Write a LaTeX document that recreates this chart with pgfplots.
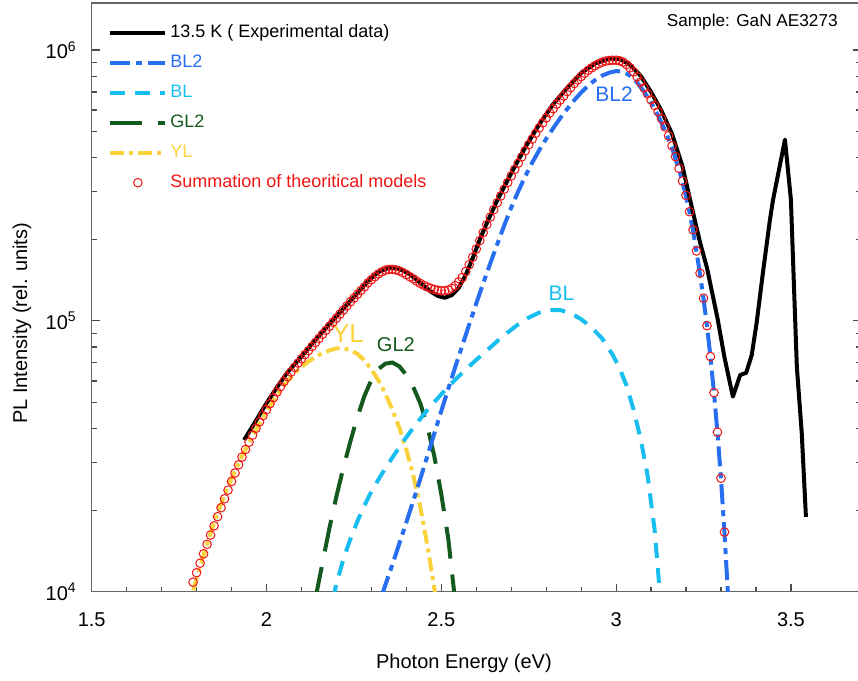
\documentclass[border=0pt]{standalone}
\usepackage{pgfplots}
\pgfplotsset{compat=1.18}
\usepackage{fontspec}
\setmainfont{Liberation Sans}
\definecolor{cBLtwo}{RGB}{40,110,240}
\definecolor{cBL}{RGB}{25,190,240}
\definecolor{cGL}{RGB}{20,90,30}
\definecolor{cYL}{RGB}{250,210,60}
\definecolor{cSum}{RGB}{240,20,20}
\begin{document}
\begin{tikzpicture}
\useasboundingbox (-45.85bp,-44.65bp) rectangle (383.15bp,295.85bp);
\begin{axis}[
 at={(0,0)}, anchor=south west,
 scale only axis, width=384.56bp, height=294.2bp,
 xmin=1.5, xmax=3.7, ymin=1e4, ymax=1.487e6,
 ymode=log, log basis y=10,
 xtick={1.5,2,2.5,3,3.5}, xticklabels={1.5,2,2.5,3,3.5},
 minor x tick num=4,
 ytick={1e4,1e5,1e6}, yticklabels={10\textsuperscript{4},10\textsuperscript{5},10\textsuperscript{6}},
 minor ytick={2e4,3e4,4e4,5e4,6e4,7e4,8e4,9e4,2e5,3e5,4e5,5e5,6e5,7e5,8e5,9e5},
 xtick pos=bottom, ytick pos=both, yticklabel pos=left,
 tick align=inside,
 major tick length=4bp, minor tick length=2.5bp,
 tick style={black!70, line width=0.6bp},
 axis line style={black!60, line width=0.8bp},
 ticklabel style={font=\fontsize{10bp}{12bp}\selectfont},
 xticklabel style={yshift=-7bp},
 yticklabel style={xshift=-4bp},
 xlabel={Photon Energy (eV)}, ylabel={PL Intensity (rel. units)},
 label style={font=\fontsize{10bp}{12bp}\selectfont},
 xlabel style={at={(axis description cs:0.484,-0.1215)}, anchor=center},
 ylabel style={at={(axis description cs:-0.0906,0.456)}, anchor=center},
 legend image code/.code={\draw[mark repeat=2,mark phase=2,#1] plot coordinates {(0bp,0bp) (13.75bp,0bp) (27.5bp,0bp)};},
 legend style={draw=none, fill=none, font=\fontsize{9bp}{10.8bp}\selectfont,
   at={(axis description cs:0.0212,0.9711)}, anchor=north west, inner sep=0pt,
   row sep=3bp, nodes={inner sep=1.5bp, text height=7bp, text depth=2bp}},
 legend cell align=left,
]
% YL
\addplot[forget plot, cYL, line width=2bp, dash pattern=on 7bp off 2.5bp on 2bp off 2.5bp] coordinates {
(1.79,10120) (1.80,11170) (1.82,13650) (1.84,16410) (1.86,19500) (1.88,22800) (1.90,26180) (1.92,29790) (1.94,33570) (1.96,37580) (1.98,41880) (2.00,46340) (2.03,53330) (2.06,59980) (2.09,65770) (2.12,70790) (2.15,74820) (2.18,77800) (2.20,79070) (2.22,79250) (2.24,77980) (2.26,75510) (2.28,71450) (2.30,66220) (2.32,60390) (2.34,53830) (2.36,46990) (2.38,40270) (2.40,33500) (2.42,26790) (2.44,20510) (2.46,14860) (2.48,10280) (2.50,6760)};
% GL2
\addplot[forget plot, cGL, line width=2bp, dash pattern=on 16bp off 8bp] coordinates {
(2.14,9440) (2.16,12740) (2.18,17180) (2.20,22490) (2.22,28710) (2.24,35890) (2.26,44160) (2.28,52720) (2.30,60530) (2.32,66370) (2.34,69500) (2.36,70150) (2.38,67920) (2.40,63100) (2.42,56890) (2.44,49550) (2.46,40930) (2.48,31620) (2.50,22910) (2.52,15670) (2.54,9120)};
% BL
\addplot[forget plot, cBL, line width=2bp, dash pattern=on 7.5bp off 5bp] coordinates {
(2.19,9333) (2.20,10720) (2.22,13180) (2.24,15670) (2.26,18200) (2.28,20800) (2.30,23440) (2.33,27230) (2.36,31260) (2.39,35730) (2.42,40270) (2.45,45190) (2.48,50120) (2.51,55340) (2.54,60670) (2.57,66070) (2.60,71780) (2.63,77620) (2.66,84140) (2.69,90570) (2.72,97050) (2.75,102800) (2.78,107200) (2.81,109600) (2.84,109600) (2.87,106700) (2.90,101400) (2.93,94410) (2.96,86100) (2.99,74990) (3.01,66830) (3.03,57540) (3.05,46990) (3.07,36730) (3.09,26920) (3.11,16980) (3.125,10000) (3.13,7943)};
% BL2
\addplot[forget plot, cBLtwo, line width=2bp, dash pattern=on 10bp off 3bp on 3bp off 3bp] coordinates {
(2.33,9700) (2.34,10590) (2.36,12590) (2.38,15070) (2.40,18030) (2.42,21680) (2.44,26120) (2.46,31620) (2.48,38370) (2.50,46450) (2.52,56100) (2.54,67610) (2.56,81100) (2.58,97050) (2.60,115900) (2.62,137700) (2.64,162900) (2.66,191900) (2.68,224900) (2.70,261800) (2.72,300600) (2.74,341200) (2.76,383700) (2.78,426600) (2.80,469900) (2.82,514000) (2.84,559800) (2.86,605300) (2.88,651600) (2.90,696600) (2.92,737900) (2.94,774500) (2.96,803500) (2.98,824100) (3.00,835600) (3.02,831800) (3.04,803500) (3.06,758600) (3.08,701500) (3.10,639700) (3.12,572800) (3.14,504700) (3.16,434500) (3.18,361400) (3.19,325100) (3.20,288400) (3.21,251200) (3.22,215300) (3.23,179900) (3.24,148900) (3.25,120800) (3.26,95500) (3.27,73450) (3.28,54080) (3.29,38640) (3.30,26120) (3.31,16520) (3.32,9772)};
% experimental
\addplot[forget plot, black, line width=2bp, line join=round] coordinates {
(1.936,36300) (1.97,42850) (2.00,49660) (2.03,56890) (2.06,64570) (2.10,73790) (2.14,85110) (2.18,97270) (2.22,110900) (2.26,126500) (2.29,140000) (2.32,151400) (2.35,157000) (2.38,155600) (2.41,148600) (2.44,138000) (2.47,128200) (2.49,123600) (2.51,121600) (2.53,124500) (2.55,132400) (2.57,147900) (2.59,170600) (2.61,199500) (2.63,229100) (2.66,278600) (2.70,350800) (2.74,436500) (2.78,530900) (2.82,631000) (2.86,724400) (2.90,822400) (2.94,891300) (2.98,929000) (3.01,926800) (3.04,881000) (3.07,803500) (3.10,699800) (3.13,595700) (3.16,489800) (3.19,371500) (3.22,251200) (3.24,195000) (3.26,156700) (3.29,102300) (3.31,73280) (3.334,52480) (3.355,63100) (3.372,64270) (3.388,74820) (3.402,98400) (3.420,150700) (3.440,236000) (3.449,280000) (3.483,466700) (3.500,279900) (3.517,67610) (3.531,38550) (3.543,18880)};
% summation
\addplot[forget plot, only marks, mark=o, mark size=2.15bp, mark options={draw=cSum, fill=white, line width=0.5bp}] coordinates {
(1.79,10840) (1.80,11750) (1.81,12740) (1.82,13800) (1.83,14960) (1.84,16180) (1.85,17500) (1.86,18920) (1.87,20420) (1.88,22030) (1.89,23710) (1.90,25530) (1.91,27420) (1.92,29380) (1.93,31410) (1.94,33500) (1.95,35650) (1.96,37840) (1.97,40090) (1.98,42360) (1.99,44670)
(2.00,46990) (2.01,49430) (2.02,52000) (2.03,54580) (2.04,57150) (2.05,59700) (2.06,62230) (2.07,64710) (2.08,67300) (2.09,69820) (2.10,72440) (2.11,74990) (2.12,77620) (2.13,80350) (2.14,83180) (2.15,86100) (2.16,89130) (2.17,92260) (2.18,95500) (2.19,98860)
(2.20,102300) (2.21,105900) (2.22,109600) (2.23,113500) (2.24,117500) (2.25,121300) (2.26,125300) (2.27,129400) (2.28,133400) (2.29,138000) (2.30,141900) (2.31,145500) (2.32,148900) (2.33,151700) (2.34,153800) (2.35,154900) (2.36,154900) (2.37,154200) (2.38,152800) (2.39,150700)
(2.40,148300) (2.41,145500) (2.42,142900) (2.43,140000) (2.44,137400) (2.45,135200) (2.46,133400) (2.47,131800) (2.48,130600) (2.49,129700) (2.50,129100) (2.51,129100) (2.52,130000) (2.53,131800) (2.54,134900) (2.55,139300) (2.56,144500) (2.57,152100) (2.58,161100) (2.59,171800)
(2.60,184100) (2.61,197700) (2.62,211800) (2.63,226500) (2.64,241500) (2.65,257000) (2.66,272900) (2.67,289100) (2.68,306200) (2.69,324300) (2.70,342700) (2.71,362200) (2.72,381900) (2.73,402700) (2.74,424600) (2.75,446700) (2.76,468800) (2.77,492000) (2.78,515200) (2.79,538300)
(2.80,561000) (2.81,584800) (2.82,606700) (2.83,631000) (2.84,653100) (2.85,676100) (2.86,701500) (2.87,726100) (2.88,751600) (2.89,774500) (2.90,798000) (2.91,820400) (2.92,841400) (2.93,859000) (2.94,875000) (2.95,889200) (2.96,901600) (2.97,910000) (2.98,914100) (2.99,916200)
(3.00,916200) (3.01,912000) (3.02,901600) (3.03,883100) (3.04,859000) (3.05,829900) (3.06,796200) (3.07,760300) (3.08,724400) (3.09,688700) (3.10,654600) (3.11,623700) (3.12,591600) (3.13,557200) (3.14,520000) (3.15,482000) (3.16,442600) (3.17,403600) (3.18,365600) (3.19,328100)
(3.20,290400) (3.21,252900) (3.22,216800) (3.23,181100) (3.24,150000) (3.25,121300) (3.26,95940) (3.27,73790) (3.28,54330) (3.29,38820) (3.30,26240) (3.31,16600)};
% legend
\addlegendimage{black, line width=2bp}
\addlegendentry{13.5 K ( Experimental data)}
\addlegendimage{cBLtwo, line width=2bp, dash pattern=on 10bp off 3bp on 3bp off 3bp}
\addlegendentry[text=cBLtwo]{BL2}
\addlegendimage{cBL, line width=2bp, dash pattern=on 7.5bp off 5bp}
\addlegendentry[text=cBL]{BL}
\addlegendimage{cGL, line width=2bp, dash pattern=on 16bp off 8bp}
\addlegendentry[text=cGL]{GL2}
\addlegendimage{cYL, line width=2bp, dash pattern=on 7bp off 2.5bp on 2bp off 2.5bp}
\addlegendentry[text=cYL]{YL}
\addlegendimage{only marks, mark=o, mark size=2.15bp, mark options={draw=cSum, fill=white, line width=0.5bp}}
\addlegendentry[text=cSum]{Summation of theoritical models}
% labels
\node[text=cBLtwo, font=\fontsize{10.5bp}{12bp}\selectfont] at (axis cs:2.994,688000) {BL2};
\node[text=cBL, font=\fontsize{10.5bp}{12bp}\selectfont] at (axis cs:2.844,126700) {BL};
\node[text=cYL, font=\fontsize{13bp}{15bp}\selectfont] at (axis cs:2.233,89440) {YL};
\node[text=cGL, font=\fontsize{10bp}{12bp}\selectfont] at (axis cs:2.370,81470) {GL2};
\node[anchor=east, inner sep=0pt, font=\fontsize{8.6bp}{10bp}\selectfont] at (axis cs:3.635,1.264e6) {Sample: GaN AE3273};
\end{axis}
\end{tikzpicture}
\end{document}
